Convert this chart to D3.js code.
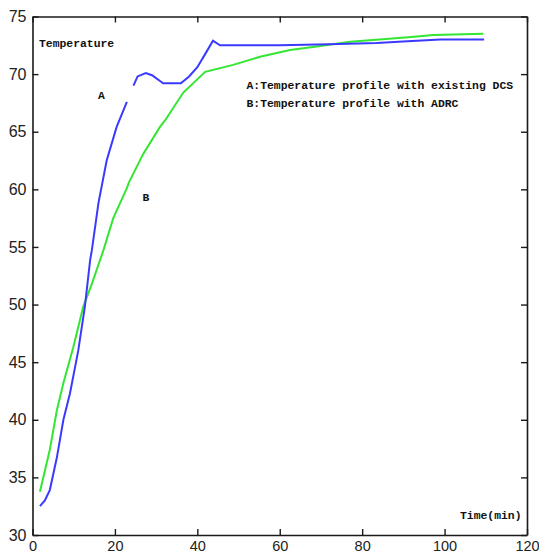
<!DOCTYPE html>
<html>
<head>
<meta charset="utf-8">
<script src="https://cdn.jsdelivr.net/npm/d3@7"></script>
<style>
  html, body { margin: 0; padding: 0; background: #fff; }
  svg { display: block; }
</style>
</head>
<body>
<svg id="chart" width="539" height="557"></svg>
<script>
// ---- data ----
const xTicks = [0, 20, 40, 60, 80, 100, 120];
const yTicks = [30, 35, 40, 45, 50, 55, 60, 65, 70, 75];

// Curve A: temperature profile with existing DCS (null = gap in the drawn line)
const timeA = [1.8, 3.0, 4.2, 5.9, 7.5, 9.1, 11.1, 12.7, 14.0, 14.4, 16.0, 18.0, 20.4, 22.9,
               null,
               24.5, 25.5, 27.5, 29.0, 31.7, 36.0, 38.0, 40.0, 42.0, 43.8, 45.5, 60.0, 72.0, 83.5, 91.0, 99.0, 109.6];
const tempA = [32.5, 33.0, 33.9, 36.7, 40.0, 42.3, 46.0, 49.8, 53.9, 54.7, 58.8, 62.5, 65.4, 67.6,
               null,
               69.0, 69.8, 70.1, 69.9, 69.2, 69.2, 69.8, 70.6, 71.8, 72.9, 72.5, 72.5, 72.6, 72.7, 72.85, 73.0, 73.0];

// Curve B: temperature profile with ADRC
const timeB = [1.8, 4.2, 5.9, 7.5, 9.9, 12.3, 14.4, 17.2, 19.6, 22.9, 23.4, 26.9, 30.9, 32.2,
               36.6, 41.9, 48.7, 55.2, 62.5, 69.0, 77.1, 91.2, 97.3, 109.4];
const tempB = [33.75, 37.4, 40.8, 43.2, 46.3, 49.8, 51.8, 54.7, 57.5, 60.1, 60.6, 63.1, 65.4, 66.0,
               68.4, 70.2, 70.8, 71.5, 72.1, 72.4, 72.8, 73.2, 73.4, 73.5];

const labels = {
  yTitle: "Temperature",
  xTitle: "Time(min)",
  curveA: "A",
  curveB: "B",
  legendA: "A:Temperature profile with existing DCS",
  legendB: "B:Temperature profile with ADRC"
};

// ---- drawing ----
const svg = d3.select("#chart");
const x = d3.scaleLinear().domain([0, 120]).range([32.5, 527]);
const y = d3.scaleLinear().domain([30, 75]).range([535, 16.5]);

const axisColor = "#1a1a1a";
const tickFont = "'Liberation Sans', Arial, sans-serif";
const monoFont = "'Liberation Mono', 'DejaVu Sans Mono', monospace";

function styleAxis(size) {
  return g => {
    g.selectAll(".domain").attr("stroke", axisColor).attr("stroke-width", 1.6);
    g.selectAll(".tick line").attr("stroke", axisColor).attr("stroke-width", 1.4);
    g.selectAll(".tick text").attr("fill", "#222").style("font-family", tickFont).style("font-size", size);
  };
}

svg.append("g").attr("transform", `translate(0,${y(30)})`)
  .call(d3.axisBottom(x).tickValues(xTicks).tickSize(-6).tickSizeOuter(0).tickPadding(6))
  .call(styleAxis("14.5px"));
svg.append("g").attr("transform", `translate(0,${y(75)})`)
  .call(d3.axisTop(x).tickValues(xTicks).tickSize(-6).tickSizeOuter(0).tickFormat(""))
  .call(styleAxis("14.5px"));
svg.append("g").attr("transform", `translate(${x(0)},0)`)
  .call(d3.axisLeft(y).tickValues(yTicks).tickSize(-6).tickSizeOuter(0).tickPadding(6))
  .call(styleAxis("16px"));
svg.append("g").attr("transform", `translate(${x(120)},0)`)
  .call(d3.axisRight(y).tickValues(yTicks).tickSize(-6).tickSizeOuter(0).tickFormat(""))
  .call(styleAxis("16px"));

const ptsA = timeA.map((t, i) => ({ t, v: tempA[i] }));
const ptsB = timeB.map((t, i) => ({ t, v: tempB[i] }));
const line = d3.line().defined(d => d.t !== null && d.v !== null)
  .x(d => x(d.t)).y(d => y(d.v));

svg.append("path").datum(ptsB).attr("d", line)
  .attr("fill", "none").attr("stroke", "#33e633").attr("stroke-width", 2);
svg.append("path").datum(ptsA).attr("d", line)
  .attr("fill", "none").attr("stroke", "#3a3aff").attr("stroke-width", 2);

function monoText(txt, px, py) {
  svg.append("text").attr("x", px).attr("y", py).text(txt)
    .style("font-family", monoFont).style("font-size", "11.4px")
    .style("font-weight", "bold").attr("fill", "#111");
}
monoText(labels.yTitle, 39, 47);
monoText(labels.curveA, 98, 99);
monoText(labels.curveB, 142.5, 201);
monoText(labels.legendA, 246.5, 89);
monoText(labels.legendB, 246.5, 107);
monoText(labels.xTitle, 460, 519);
</script>
</body>
</html>
